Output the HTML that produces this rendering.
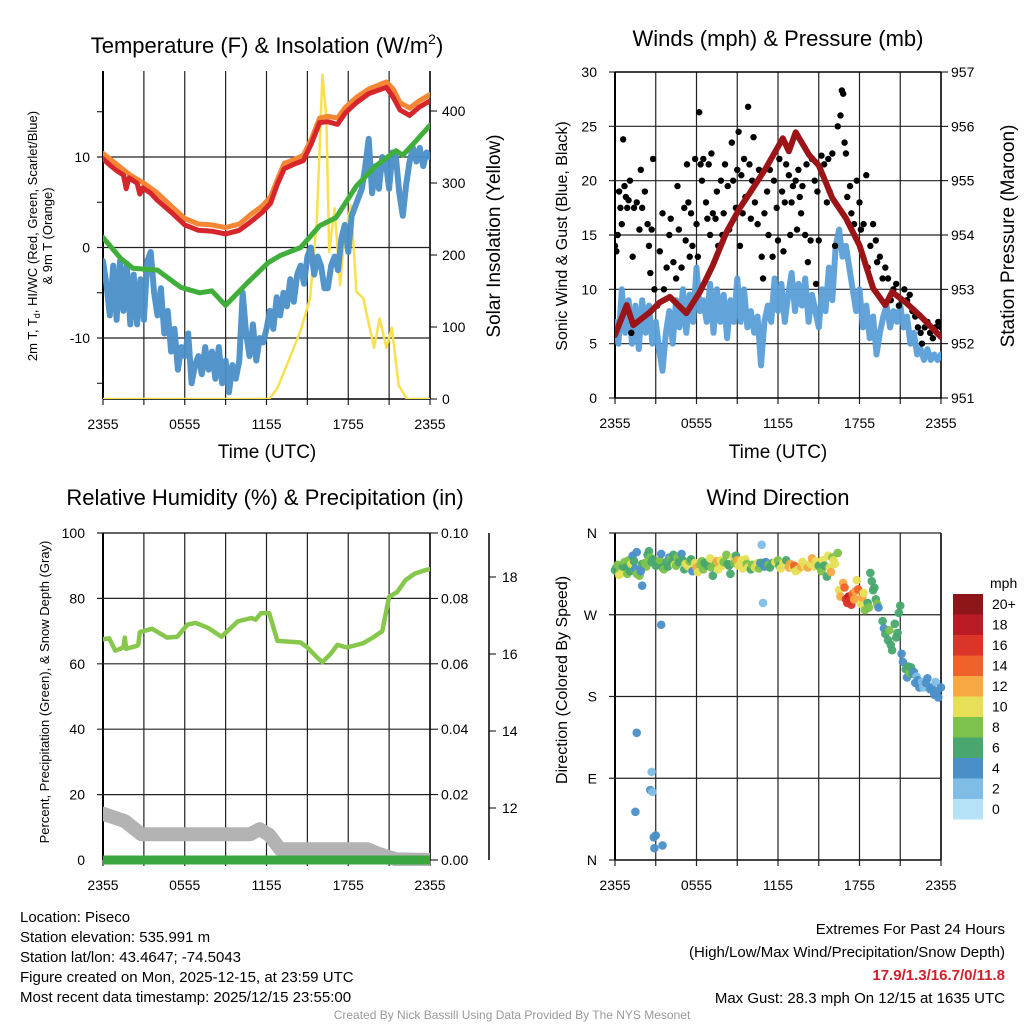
<!DOCTYPE html>
<html><head><meta charset="utf-8"><style>
html,body{margin:0;padding:0;background:#fff;}
svg{display:block;font-family:"Liberation Sans",Arial,sans-serif;}
</style></head><body>
<svg id="chart" width="1024" height="1024" viewBox="0 0 1024 1024" xmlns="http://www.w3.org/2000/svg">
<defs>
<clipPath id="cTL"><rect x="103" y="71" width="327" height="328"/></clipPath>
<clipPath id="cTR"><rect x="615" y="72" width="326" height="326"/></clipPath>
<clipPath id="cBL"><rect x="103" y="533" width="327" height="333"/></clipPath>
</defs>
<g id="g"></g>
<text x="267" y="53" font-size="22" text-anchor="middle">Temperature (F) &amp; Insolation (W/m<tspan font-size="14" dy="-9">2</tspan><tspan dy="9">)</tspan></text>
<text x="778" y="46" font-size="22" text-anchor="middle">Winds (mph) &amp; Pressure (mb)</text>
<text x="265" y="505" font-size="22" text-anchor="middle">Relative Humidity (%) &amp; Precipitation (in)</text>
<text x="778" y="505" font-size="22" text-anchor="middle">Wind Direction</text>
<text transform="translate(37,236) rotate(-90)" font-size="13" text-anchor="middle">2m T, T<tspan font-size="9" dy="3">d</tspan><tspan dy="-3">, HI/WC (Red, Green, Scarlet/Blue)</tspan></text>
<text transform="translate(52,236) rotate(-90)" font-size="13" text-anchor="middle">&amp; 9m T (Orange)</text>
<text transform="translate(500,236) rotate(-90)" font-size="19" text-anchor="middle">Solar Insolation (Yellow)</text>
<text transform="translate(567,236) rotate(-90)" font-size="16" text-anchor="middle">Sonic Wind &amp; Gust (Blue, Black)</text>
<text transform="translate(1014,236) rotate(-90)" font-size="19" text-anchor="middle">Station Pressure (Maroon)</text>
<text transform="translate(49,692) rotate(-90)" font-size="13" text-anchor="middle">Percent, Precipitation (Green), &amp; Snow Depth (Gray)</text>
<text transform="translate(567,680) rotate(-90)" font-size="16" text-anchor="middle">Direction (Colored By Speed)</text>
<text x="267" y="458" font-size="19" text-anchor="middle">Time (UTC)</text>
<text x="778" y="458" font-size="19" text-anchor="middle">Time (UTC)</text>
<text x="990" y="588" font-size="14">mph</text>
<g font-size="15">
<text x="20" y="922">Location: Piseco</text>
<text x="20" y="942">Station elevation: 535.991 m</text>
<text x="20" y="962">Station lat/lon: 43.4647; -74.5043</text>
<text x="20" y="982">Figure created on Mon, 2025-12-15, at 23:59 UTC</text>
<text x="20" y="1002">Most recent data timestamp: 2025/12/15 23:55:00</text>
</g>
<g font-size="15" text-anchor="end">
<text x="1005" y="934">Extremes For Past 24 Hours</text>
<text x="1005" y="957">(High/Low/Max Wind/Precipitation/Snow Depth)</text>
<text x="1005" y="980" fill="#d0202a" font-weight="bold">17.9/1.3/16.7/0/11.8</text>
<text x="1005" y="1003">Max Gust: 28.3 mph On 12/15 at 1635 UTC</text>
</g>
<text x="512" y="1019" font-size="12" fill="#999" text-anchor="middle">Created By Nick Bassill Using Data Provided By The NYS Mesonet</text>
</svg>
<script>
// ---- data (hours since 2355 UTC) ----
const xTickLabels=["2355","0555","1155","1755","2355"];
const orangeH=[0,0.5,1,1.5,2,3,4,5,6,7,8,9,10,10.8,11.7,12.3,12.8,13.3,14,14.7,15.3,15.9,16.5,17.2,17.8,18.6,19.5,20.8,21.3,21.8,22.5,23.2,24];
const orangeV=[10.4,9.8,9.2,8.6,8,7.1,6,4.6,3.2,2.6,2.5,2.2,2.6,3.6,4.6,5.6,7.5,9.3,9.7,10.2,12,14.3,14.5,14.3,15.5,16.6,17.5,18.3,17.5,16,15.4,16.2,16.9];
const redH=[0,0.5,1,1.5,1.7,1.9,2.5,2.7,2.9,3.5,4,5,6,7,8,9,10,10.8,11.7,12.3,12.8,13.3,14,14.7,15.3,15.9,16.5,17.2,17.8,18.6,19.5,20.8,21.3,21.8,22.5,23.2,24];
const redV=[9.8,9.1,8.5,8,6.5,7.7,7.1,5.9,6.6,6,5.2,3.9,2.5,1.9,1.8,1.5,1.9,2.8,3.9,4.9,7,8.7,9.2,9.6,11.5,13.8,13.9,13.6,14.9,16,17,17.7,16.6,15.2,14.6,15.5,16.2];
const greenH=[0,1.3,2.2,4,5.7,7.1,8,9,10.6,12.1,13,14.5,15.9,17.1,18.6,20,21.5,22,22.8,24];
const greenV=[1.1,-1.2,-2.3,-2.5,-4.4,-5,-4.8,-6.4,-3.9,-1.7,-0.9,0,2.4,3.3,6.8,9,10.7,10.2,11.5,13.5];
const dewV=[-1.5,-4,-7.5,-2,-8,-1.5,-7,-1.8,-8.5,-3,-8.5,-3.5,-8,-1.5,-0.5,-5,-7.5,-4.5,-9.5,-7,-11.5,-9,-13.5,-11,-12,-9.5,-15,-13,-12,-14,-11,-13.5,-11.5,-14.5,-11,-15,-12.5,-16,-13,-14.5,-12.5,-5,-9.5,-12,-8.5,-12.5,-10,-10.5,-9,-7,-9,-5.5,-7.5,-5,-6.5,-3.5,-6,-3,-2,-4,-1,0,-3,-1,-2,-4.5,-4.5,-2,-1,-2.5,1,2.5,-0.5,3.5,4.5,5.5,6.5,9,12,6,9,6.5,10,9.5,6.5,10.5,10,6,3.5,7,9.5,11,9.5,11,9,10.5,10];
const solarH=[0,12.2,12.8,13.7,14.5,15.2,15.7,16.1,16.4,16.6,17,17.4,17.7,18.2,18.6,19.1,19.9,20.3,20.8,21.2,21.7,22.3,24];
const solarV=[0,0,15,57,95,140,251,450,390,204,265,158,223,269,149,140,71,112,71,99,19,0,0];
const windV=[7,5,10,6,9,5,8.5,4.5,9,6,8.5,5,7,4.5,2.5,6,8,5,9,6.5,10,6,9.5,7,12,8,9,7,10.5,6,10,7,9.5,5.5,9,7,11,7,10,6.5,8,6,7.5,3,7,8.5,7,11,8,10.5,7,9.5,11.5,8,10.5,8.5,11,7,9.5,8,6.5,10,8,12,9,14,15.5,13,14,12,10,8,10,6.5,8.5,5.5,7.5,4,6,7.5,8.5,6.5,8,7,8.5,6.5,7.5,5,6,4,4.5,3.5,4.5,3.5,4,3.5,4];
const gustH=[0,0.1,0.2,0.3,0.4,0.5,0.6,0.7,0.8,0.9,1.0,1.1,1.2,1.3,1.4,1.6,1.8,1.9,2.0,2.2,2.4,2.5,2.6,2.7,2.8,2.9,3.1,3.3,3.5,3.6,3.8,4.0,4.1,4.3,4.5,4.6,4.7,4.9,5.1,5.2,5.3,5.4,5.5,5.6,5.7,5.9,6.0,6.1,6.2,6.3,6.4,6.5,6.7,6.8,6.9,7.0,7.1,7.2,7.4,7.5,7.6,7.8,7.9,8.0,8.1,8.3,8.4,8.6,8.7,8.9,9.0,9.1,9.2,9.3,9.4,9.5,9.6,9.8,9.9,10.0,10.1,10.2,10.3,10.5,10.6,10.8,10.9,11.0,11.2,11.3,11.4,11.6,11.7,11.9,12.0,12.1,12.3,12.4,12.5,12.6,12.8,12.9,13.0,13.1,13.3,13.4,13.5,13.6,13.7,13.8,14.0,14.1,14.2,14.4,14.5,14.7,14.8,14.9,15.0,15.2,15.4,15.6,15.7,15.8,16.0,16.2,16.4,16.6,16.7,16.8,16.9,17.0,17.1,17.3,17.4,17.6,17.8,18.0,18.1,18.3,18.5,18.6,18.8,19.0,19.2,19.3,19.5,19.7,19.9,20.1,20.3,20.5,20.7,20.9,21.1,21.3,21.5,21.7,21.9,22.1,22.3,22.5,22.6,22.8,23.0,23.2,23.4,23.6,23.8,24];
const gustV=[14,13.5,15,19,17.5,16,23.8,19.5,18.5,17.5,18.2,20,6,13,17.5,18,15.5,21,17.5,19,16,14,11.5,15.5,22,10,8.5,13.5,17,10,12,15,16.5,12.5,11,19.5,15.5,12,17.5,14.5,21.5,18,13,17,14,22,16,13,26.3,21.5,20,22,18,16.5,21.5,15,22.5,17,16.5,19,14,20,15,17,21.5,19.5,15.5,23.5,20,17.5,21,24.5,14,20.5,17,22,18.5,26.8,21.5,16.5,20,24,18,16,21,13,11,17,19,15,21,13,20,17.5,14.5,22,19,13.5,18,21.5,20.5,15,18,19.5,20,15.5,21,18.5,17,19.5,15,21.5,12.5,14.5,22,20,10.5,19,14.5,22.3,21.5,18,22,19,22.5,14,25,26,28.3,28,23.5,22.5,18.5,19.5,17,16,20,18,15.5,16,20.5,12,14,16,14.5,12.5,13,11,12,11,9,10,10.5,8.5,9,10,9,9.5,8,7.5,6.5,6,5,6.5,7,6,5.5,6.5,7,6.5];
const presH=[0,0.86,1.35,2.57,3.3,4.04,5.26,6.24,7.2,8.2,9.17,10.15,11.1,12.35,12.8,13.3,14.3,15,16,17,18,19,19.9,20.4,21.4,22.4,23.85,24];
const presV=[952.16,952.71,952.34,952.58,952.76,952.86,952.56,952.95,953.44,954.05,954.49,954.86,955.23,955.78,955.54,955.89,955.47,955.28,954.68,954.31,953.81,953.02,952.71,952.95,952.76,952.53,952.16,952.12];
const rhH=[0,0.45,0.9,1.5,1.6,1.7,2.5,2.6,2.7,3.6,4.7,5.45,6.2,6.8,7.7,8.7,9.9,10.9,11.2,11.6,12.2,12.8,14.5,15,15.7,16.1,16.7,17.2,17.9,19.1,19.8,20.5,21,21.6,22.2,22.9,23.7,24];
const rhV=[67.5,67.8,64,65,68,64.6,65.5,66,69.7,70.7,68,68.3,72,72.5,71,68.3,73,74,73.5,75.5,75.5,67,66.5,65,62,60.5,63,65.8,65,66.3,68,70,80.5,82,85.6,87.6,88.7,89];
const precipH=[0,24];
const precipV=[0,0];
const snowH=[0,1.6,2.8,10.8,11.5,12.2,13,19.4,20.3,21.5,24];
const snowV=[11.85,11.66,11.32,11.32,11.45,11.3,10.93,10.93,10.8,10.67,10.65];
const dirH=[0,0.1,0.2,0.3,0.4,0.5,0.6,0.7,0.8,0.9,1.0,1.1,1.2,1.3,1.4,1.5,1.6,1.8,2.0,2.2,2.3,2.4,2.5,2.6,2.7,2.8,3.0,3.2,3.3,3.4,3.5,3.6,3.8,3.9,4.0,4.1,4.2,4.3,4.4,4.5,4.6,4.7,4.9,5.0,5.1,5.2,5.4,5.5,5.6,5.7,5.9,6.0,6.1,6.3,6.4,6.5,6.6,6.8,7.0,7.1,7.2,7.4,7.5,7.6,7.8,7.9,8.0,8.2,8.3,8.4,8.5,8.7,8.8,8.9,9.0,9.1,9.3,9.4,9.6,9.7,9.8,10.0,10.1,10.3,10.5,10.6,10.7,10.9,11.0,11.1,11.3,11.4,11.6,11.8,12.0,12.1,12.2,12.4,12.6,12.8,12.9,13.1,13.2,13.3,13.5,13.7,13.8,14.0,14.2,14.4,14.5,14.7,14.8,15.0,15.2,15.3,15.4,15.6,15.7,15.8,15.9,16.0,16.1,16.2,16.4,16.5,16.6,16.8,16.9,17.0,17.1,17.2,17.3,17.4,17.5,17.6,17.7,17.8,17.9,18.0,18.1,18.2,18.3,18.4,18.6,18.7,18.8,18.9,19.0,19.1,19.2,19.3,19.4,19.7,19.8,19.9,20.1,20.2,20.3,20.4,20.6,20.7,20.8,20.9,21.0,21.1,21.2,21.4,21.5,21.6,21.7,21.8,21.9,22.0,22.1,22.2,22.3,22.4,22.6,22.7,22.9,23.0,23.2,23.3,23.5,23.6,23.7,23.8,24];
const dirV=[319,322,325,314,320,316,323,328,322,315,330,318,326,335,329,321,315,313,326,327,323,336,340,333,328,331,324,326,330,337,322,320,328,323,333,331,329,336,325,324,333,328,337,330,320,326,323,329,331,318,327,322,317,325,329,320,327,324,332,322,313,326,329,320,330,324,328,336,326,324,315,333,327,335,330,324,330,321,331,326,322,320,325,322,327,321,327,327,323,328,325,322,327,328,330,324,321,327,330,322,326,322,324,318,320,323,328,323,322,326,332,323,329,324,318,330,324,312,335,322,317,333,330,326,338,297,290,305,300,287,283,290,286,281,293,287,296,308,298,287,282,289,294,275,283,278,316,307,297,300,287,282,278,263,255,249,242,253,237,231,260,245,250,272,280,227,218,210,201,213,206,212,205,207,195,202,198,190,196,190,195,200,188,190,182,196,186,179,190];
const dirSpd=[6,6,8,10,8,10,6,8,6,8,8,6,10,4,6,4,8,8,6,8,8,6,6,8,6,6,6,6,8,4,6,8,6,6,4,8,6,6,10,8,8,6,4,6,6,10,10,8,6,4,10,12,10,8,8,8,6,6,10,8,6,8,12,10,10,10,8,8,6,6,6,10,8,6,12,10,10,10,10,8,10,6,8,10,10,8,4,6,4,4,8,6,6,10,8,6,10,10,6,12,12,10,14,10,10,12,10,10,12,10,12,10,10,6,8,10,6,6,10,10,12,8,10,10,8,10,12,12,14,16,16,18,16,16,14,12,12,10,14,12,10,12,10,8,6,8,6,6,6,6,6,8,4,6,4,6,6,8,6,6,6,6,6,6,6,4,4,6,4,6,8,6,6,4,4,2,4,4,2,2,4,4,4,4,4,2,4,4,4,4,4,4,4];
const outlierH=[1.6,1.9,2.0,3.4,1.6,2.7,2.6,2.75,1.5,2.85,3.0,2.9,3.5,10.8,10.9];
const outlierV=[339,318,302,259,140,97,77,75,53,25,27,13,16,347,283];
const outlierSpd=[4,4,4,4,4,2,4,2,4,4,4,4,4,2,2];
const speedBins=["0","2","4","6","8","10","12","14","16","18","20+"];
const binColors=["#b5e2f7","#80bde6","#4a8fc8","#48a66e","#7cc24b","#e6df57","#f6a943","#ef6229","#db3428","#bb1b24","#8e1518"];
const tempTicks=["-10","0","10"];
const tempTickVals=[-10,0,10];
const solarTicks=[0,100,200,300,400];
const windTicks=[0,5,10,15,20,25,30];
const presTicks=[951,952,953,954,955,956,957];
const rhTicks=[0,20,40,60,80,100];
const precipTicks=["0.00","0.02","0.04","0.06","0.08","0.10"];
const snowTicks=[12,14,16,18];
const dirTicks=["N","E","S","W","N"];
const dirTickVals=[0,90,180,270,360];

const NS="http://www.w3.org/2000/svg";
const G=document.getElementById("g");
function lin(d0,d1,r0,r1){return v=>r0+(v-d0)*(r1-r0)/(d1-d0);}
function mk(tag,attrs,parent){const e=document.createElementNS(NS,tag);for(const k in attrs)e.setAttribute(k,attrs[k]);(parent||G).appendChild(e);return e;}
function pathD(hs,vs,xf,yf){let d="";for(let i=0;i<vs.length;i++){d+=(i?"L":"M")+xf(hs[i]).toFixed(1)+","+yf(vs[i]).toFixed(1);}return d;}
function uniformH(n){const a=[];for(let i=0;i<n;i++)a.push(i*24/(n-1));return a;}

function frame(x0,x1,y0,y1,name,xlab){
  const fg=mk("g",{});
  
  
  for(let h=0;h<=24;h+=3){const x=lin(0,24,x0,x1)(h);
    const l=mk("line",{x1:x,x2:x,y1:y0,y2:y1+6,stroke:"#222","stroke-width":1.2},fg);
    
    }
  mk("line",{x1:x0,x2:x0,y1:y0,y2:y1,stroke:"#000","stroke-width":2},fg);
  mk("line",{x1:x1,x2:x1,y1:y0,y2:y1,stroke:"#000","stroke-width":1.5},fg);
  mk("line",{x1:x0,x2:x1,y1:y1,y2:y1,stroke:"#000","stroke-width":1.5},fg);
  if(xlab){xTickLabels.forEach((s,i)=>{const t=mk("text",{x:lin(0,4,x0,x1)(i),y:y1+30,"font-size":14,"text-anchor":"middle"},fg);t.textContent=s;
    
    });}
}
function hgrid(x0,x1,y,fg){const l=mk("line",{x1:x0-6,x2:x1,y1:y,y2:y,stroke:"#222","stroke-width":1.2},fg);
  
  }
function label(x,y,s,anchor,size){const t=mk("text",{x:x,y:y+5,"font-size":size||14,"text-anchor":anchor});t.textContent=s;
  
  return t;}
function line(hs,vs,xf,yf,color,w,clip,name,op){const p=mk("path",{d:pathD(hs,vs,xf,yf),fill:"none",stroke:color,"stroke-width":w,"stroke-linejoin":"round","stroke-linecap":"round","clip-path":"url(#"+clip+")",opacity:op||1});
  
  return p;}

// ---- Top-left: temperature ----
const xT=lin(0,24,103,430), yT=lin(-10,10,338,157), yS=lin(0,400,399,111);
frame(103,430,71,399,"temperature",true);
tempTickVals.forEach((v,i)=>{hgrid(103,430,yT(v));label(90,yT(v),tempTicks[i],"end");});
[-15,-5,5,15].forEach(v=>mk("line",{x1:97,x2:103,y1:yT(v),y2:yT(v),stroke:"#000"}));
solarTicks.forEach(v=>{mk("line",{x1:430,x2:437,y1:yS(v),y2:yS(v),stroke:"#000"});label(442,yS(v),String(v),"start");});
line(solarH,solarV,xT,yS,"#f9e04f",2.5,"cTL","solar-insolation-line");
line(uniformH(dewV.length),dewV,xT,yT,"#4a8fc8",6,"cTL","dewpoint-line",0.95);
line(greenH,greenV,xT,yT,"#3fae3a",5,"cTL","heat-index-line");
line(orangeH,orangeV,xT,yT,"#f58634",5,"cTL","9m-temperature-line");
line(redH,redV,xT,yT,"#d7262b",5,"cTL","2m-temperature-line");

// ---- Top-right: winds ----
const xW=lin(0,24,615,941), yW=lin(0,30,398,72), yP=lin(951,957,398,72);
frame(615,941,72,398,"winds",true);
windTicks.forEach(v=>{if(v>0&&v<30)hgrid(615,941,yW(v));else mk("line",{x1:609,x2:615,y1:yW(v),y2:yW(v),stroke:"#000"});label(597,yW(v),String(v),"end");});
mk("line",{x1:615,x2:941,y1:72,y2:72,stroke:"#000","stroke-width":1.5});
presTicks.forEach(v=>{mk("line",{x1:941,x2:948,y1:yP(v),y2:yP(v),stroke:"#000"});label(951,yP(v),String(v),"start");});
line(uniformH(windV.length),windV,xW,yW,"#5a9fd8",6,"cTR","sonic-wind-line",0.95);
gustH.forEach((h,i)=>{const c=mk("circle",{cx:xW(h),cy:yW(gustV[i]),r:3.2,fill:"#000","clip-path":"url(#cTR)"});
  
  });
line(presH,presV,xW,yP,"#9b1518",6,"cTR","pressure-line");

// ---- Bottom-left: humidity ----
const xR=lin(0,24,103,430), yR=lin(0,100,860,533), ySD=lin(12,18,808,577);
frame(103,430,533,860,"humidity",true);
rhTicks.forEach((v,i)=>{if(v>0)hgrid(103,430,yR(v));label(85,yR(v),String(v),"end");
  mk("line",{x1:430,x2:438,y1:yR(v),y2:yR(v),stroke:"#000"});label(441,yR(v),precipTicks[i],"start");});
mk("line",{x1:103,x2:430,y1:533,y2:533,stroke:"#000","stroke-width":1});
const sax=mk("line",{x1:489,x2:489,y1:533,y2:860,stroke:"#000","stroke-width":1.5});


snowTicks.forEach(v=>{mk("line",{x1:489,x2:496,y1:ySD(v),y2:ySD(v),stroke:"#000"});label(502,ySD(v),String(v),"start");});
line(snowH,snowV,xR,ySD,"#b3b3b3",14,"cBL","snow-depth-line");
line(rhH,rhV,xR,yR,"#86c74c",4.5,"cBL","relative-humidity-line");
line(precipH,precipV,xR,lin(0,0.1,860,533),"#3aa63f",9,"cBL","precipitation-line");

// ---- Bottom-right: wind direction ----
const xD=lin(0,24,615,941), yD=lin(0,360,860,533);
frame(615,941,533,860,"wind-direction",true);
dirTickVals.forEach((v,i)=>{hgrid(615,941,yD(v));label(597,yD(v),dirTicks[i],"end");});
function dirDot(h,d,s){const sp=(s===undefined)?6:s;const b=Math.min(10,Math.floor(sp/2));
  const c=mk("circle",{cx:xD(h),cy:yD(d),r:4.3,fill:binColors[b],opacity:0.95});
  
  }
dirH.forEach((h,i)=>{if(dirV[i]!==undefined)dirDot(h,dirV[i],dirSpd[i]);});
outlierH.forEach((h,i)=>dirDot(h,outlierV[i],outlierSpd[i]));
speedBins.forEach((s,i)=>{const y=594+(10-i)*20.5;
  const r=mk("rect",{x:953,y:y,width:30,height:20.5,fill:binColors[i]});
  
  
  const t=mk("text",{x:992,y:y+15,"font-size":14});t.textContent=s;
  
  });
</script>
</body></html>
